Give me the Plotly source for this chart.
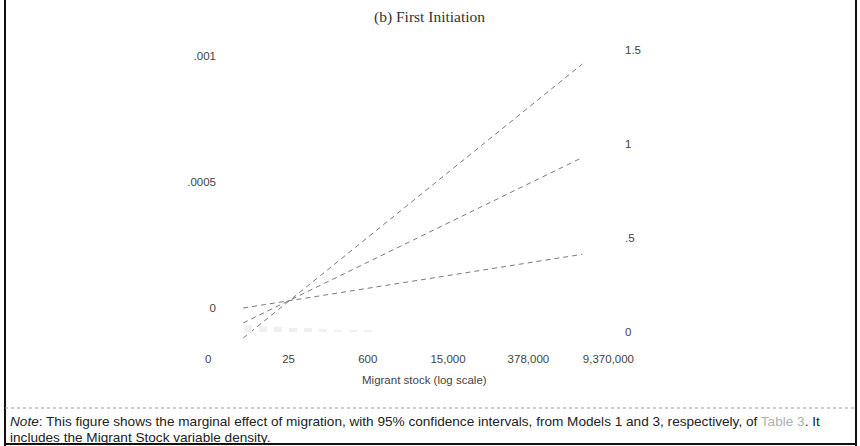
import numpy as np
import plotly.graph_objects as go

# ---- data ----
x_ticks_val = [0, 3.219, 6.397, 9.616, 12.84, 16.05]          # ln(migrant stock)
x_ticks_txt = ["0", "25", "600", "15,000", "378,000", "9,370,000"]
y_left_ticks = [0, 0.0005, 0.001]
y_left_txt = ["0", ".0005", ".001"]
y_right_ticks = [0, 0.5, 1, 1.5]
y_right_txt = ["0", ".5", "1", "1.5"]

line_x = [1.4, 15.0]
upper_ci = [-0.000119, 0.000968]
marginal_effect = [-0.0000593, 0.000597]
lower_ci = [0.0, 0.000213]

density_x = [1.6, 2.2, 2.8, 3.4, 4.0, 4.6, 5.2, 5.8, 6.4]
density_y = [0.035, 0.03, 0.025, 0.02, 0.02, 0.015, 0.012, 0.01, 0.008]

W, H = 860, 446

def px(xp):
    return xp / W

def py(yp):
    return 1 - yp / H

fig = go.Figure()

fig.add_trace(go.Bar(x=density_x, y=density_y, yaxis="y2", width=0.3,
                     marker=dict(color="#f0f0f0", line=dict(width=0)),
                     showlegend=False, hoverinfo="skip"))

for ys in (upper_ci, marginal_effect, lower_ci):
    fig.add_trace(go.Scatter(x=line_x, y=ys, mode="lines",
                             line=dict(color="#7a7a7a", width=1, dash="5px,4px"),
                             showlegend=False))

FONT = "Liberation Sans, Arial, sans-serif"
tick_font = dict(family=FONT, size=11.5, color="#444444")

fig.update_layout(
    template="none",
    width=W, height=H,
    margin=dict(l=0, r=0, t=0, b=0, pad=0),
    font=dict(family=FONT, color="#444444"),
    paper_bgcolor="white", plot_bgcolor="white",
    xaxis=dict(domain=[px(195), px(618)], range=[-0.5335, 16.434],
               tickvals=x_ticks_val, ticktext=x_ticks_txt, tickfont=tick_font,
               showgrid=False, zeroline=False, showline=False, ticks="",
               ticklabelstandoff=4),
    yaxis=dict(domain=[py(346), py(40)], range=[-0.00015079, 0.00106349],
               anchor="free", position=px(222), side="left",
               tickvals=y_left_ticks, ticktext=y_left_txt, tickfont=tick_font,
               showgrid=False, zeroline=False, showline=False, ticks="",
               ticklabelstandoff=6),
    yaxis2=dict(overlaying="y", side="right", anchor="free", position=px(618),
                range=[-0.074468, 1.553191],
                tickvals=y_right_ticks, ticktext=y_right_txt, tickfont=tick_font,
                showgrid=False, zeroline=False, showline=False, ticks="",
                ticklabelstandoff=6),
    bargap=0,
)

annotations = [
    dict(text="(b) First Initiation", x=px(429), y=py(17), xref="paper", yref="paper",
         showarrow=False, xanchor="center", yanchor="middle",
         font=dict(family="Liberation Serif, Times New Roman, serif", size=15.5, color="#333")),
    dict(text="Migrant stock (log scale)", x=px(424), y=py(380), xref="paper", yref="paper",
         showarrow=False, xanchor="center", yanchor="middle", font=tick_font),
    dict(text="<i>Note</i>: This figure shows the marginal effect of migration, with 95% confidence intervals, "
              "from Models 1 and 3, respectively, of <span style='color:#b0b0b0'>Table 3</span>. It",
         x=px(8), y=py(421), xref="paper", yref="paper", showarrow=False,
         xanchor="left", yanchor="middle",
         font=dict(family=FONT, size=13.6, color="#222")),
    dict(text="includes the Migrant Stock variable density.",
         x=px(8), y=py(437), xref="paper", yref="paper", showarrow=False,
         xanchor="left", yanchor="middle",
         font=dict(family=FONT, size=13.6, color="#222")),
]
fig.update_layout(annotations=annotations)

shapes = [
    dict(type="line", xref="paper", yref="paper", x0=px(5), x1=px(5), y0=py(0), y1=py(446),
         line=dict(color="#111", width=2)),
    dict(type="line", xref="paper", yref="paper", x0=px(856), x1=px(856), y0=py(0), y1=py(446),
         line=dict(color="#111", width=2)),
    dict(type="line", xref="paper", yref="paper", x0=px(5), x1=px(856), y0=py(444), y1=py(444),
         line=dict(color="#111", width=2)),
    dict(type="line", xref="paper", yref="paper", x0=px(5), x1=px(856), y0=py(408), y1=py(408),
         line=dict(color="#999", width=1, dash="dot")),
]
fig.update_layout(shapes=shapes)

fig.write_html("out.html",
               config={"displayModeBar": False},
               post_script="document.body.style.margin='0';document.body.style.overflow='hidden';")
